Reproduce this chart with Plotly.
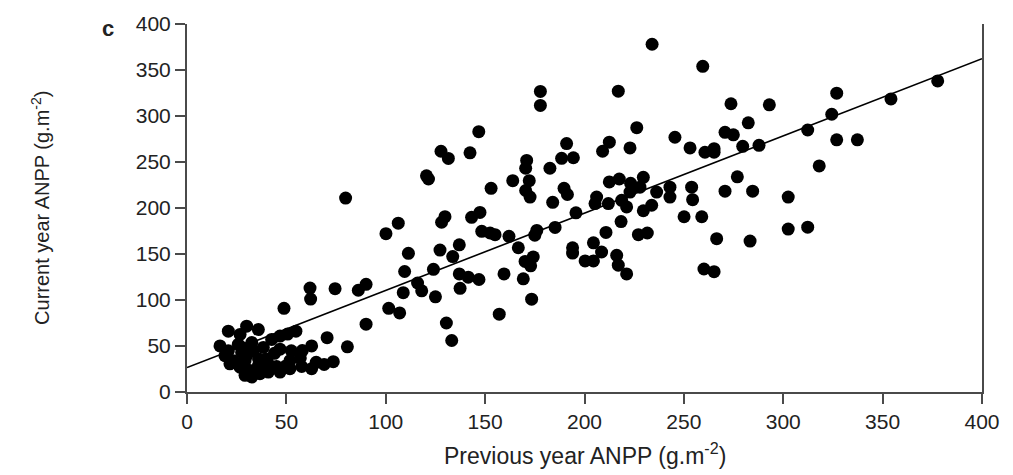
import plotly.graph_objects as go

# Previous year ANPP (x) and current year ANPP (y), g.m^-2
prev_anpp = [
    20.8, 30.0, 35.9, 26.7, 42.6, 46.8, 50.6, 54.8, 70.5, 62.7, 80.7, 16.6, 20.8, 25.8, 32.6, 38.4,
    46.8, 52.5, 19.1, 23.3, 30.0, 33.4, 40.1, 51.8, 57.0, 21.6, 26.7, 31.7, 35.9, 40.9, 45.1, 49.5,
    29.2, 32.6, 36.7, 40.9, 46.8, 51.8, 57.7, 62.7, 69.0, 73.6, 65.0, 29.2, 27.5, 48.8, 61.9, 62.2,
    74.5, 86.2, 90.1, 28.0, 36.0, 44.0, 58.0,
    79.8, 108.8, 116.0, 118.1, 125.0, 101.5, 107.0, 90.1, 130.5, 133.2, 157.1, 173.4, 169.2, 159.5,
    137.0, 141.5, 146.9, 137.4, 109.5, 124.0, 111.4, 127.3, 133.7, 137.0, 166.7, 174.2, 170.1, 172.9,
    194.0, 194.0, 100.1, 106.3, 148.3, 152.5, 155.0, 162.0, 176.0, 175.0, 185.2, 128.1, 129.8, 143.2,
    147.4, 184.0, 195.7, 153.0, 170.4, 172.6, 189.7, 191.4, 163.9, 172.2, 120.5, 121.5, 127.8, 131.5,
    142.4, 170.9, 170.4, 182.6, 188.5, 194.4, 191.0, 146.8, 177.8, 177.8, 217.0, 234.0, 259.5, 273.7,
    293.0, 226.3, 282.4, 245.5, 270.7, 274.9, 212.5, 209.1, 222.9, 253.1, 260.6, 265.2, 265.2, 279.6,
    287.8, 212.5, 217.5, 223.2, 229.6, 227.9, 222.9, 236.3, 243.0, 243.0, 253.9, 254.4, 270.7, 284.6,
    276.9, 206.1, 205.3, 212.0, 218.7, 221.2, 233.8, 229.6, 218.4, 210.8, 227.1, 231.6, 250.1, 259.0,
    266.5, 283.3, 204.5, 208.6, 200.3, 204.5, 216.2, 217.0, 221.2, 260.1, 265.2, 326.9, 354.2, 377.7,
    324.4, 312.3, 326.9, 337.3, 318.1, 302.5, 302.5, 312.3,
]
curr_anpp = [
    66.1, 71.5, 67.9, 62.6, 57.2, 60.8, 63.0, 66.1, 59.0, 50.1, 49.1, 50.1, 44.8, 51.9, 53.7, 48.4,
    46.6, 44.8, 39.5, 34.1, 39.5, 44.8, 35.8, 34.1, 37.0, 30.6, 27.0, 23.5, 28.8, 30.6, 27.7, 28.0,
    18.1, 16.3, 19.9, 21.7, 21.7, 25.3, 27.7, 25.3, 30.0, 33.0, 32.3, 34.1, 43.0, 91.0, 113.0, 101.0,
    112.3, 110.6, 117.0, 48.0, 36.0, 42.0, 45.0,
    210.8, 108.0, 118.5, 110.0, 103.5, 91.0, 86.0, 73.7, 75.0, 56.0, 84.6, 100.9, 123.0, 128.3,
    128.3, 124.8, 122.3, 112.7, 131.0, 133.3, 150.7, 154.3, 147.2, 160.0, 156.8, 146.8, 141.9, 137.2,
    156.8, 151.0, 172.1, 183.5, 174.6, 172.8, 171.0, 169.2, 175.6, 170.5, 178.9, 184.5, 190.6, 189.9,
    195.2, 206.2, 194.8, 221.4, 219.0, 211.9, 221.4, 214.7, 229.7, 229.7, 235.0, 231.5, 261.7, 253.9,
    260.0, 251.7, 243.2, 243.2, 254.0, 254.6, 270.0, 283.0, 326.7, 311.5, 327.0, 378.0, 354.0, 313.3,
    312.2, 287.3, 292.6, 276.9, 282.3, 279.5, 271.6, 261.7, 265.3, 265.3, 260.6, 264.5, 260.6, 267.0,
    268.1, 228.3, 231.5, 226.9, 233.3, 222.6, 217.3, 217.3, 222.6, 211.9, 222.6, 209.1, 218.3, 218.3,
    233.9, 211.9, 204.8, 204.8, 208.3, 201.2, 203.0, 197.0, 185.2, 173.5, 171.0, 172.8, 190.5, 190.5,
    166.7, 164.0, 162.1, 152.2, 142.5, 142.5, 148.6, 137.9, 128.3, 133.7, 130.8, 324.8, 318.6, 338.1,
    301.9, 284.8, 274.1, 274.1, 245.7, 211.9, 177.1, 179.2,
]

# Regression line end points
fit_x = [0, 400]
fit_y = [26.5, 362.3]

x_ticks = [0, 50, 100, 150, 200, 250, 300, 350, 400]
y_ticks = [0, 50, 100, 150, 200, 250, 300, 350, 400]

FONT = "Liberation Sans, Arial, sans-serif"
AXIS_COLOR = "#4a4a4a"

fig = go.Figure()
fig.add_trace(go.Scatter(
    x=fit_x, y=fit_y, mode="lines",
    line=dict(color="black", width=1.6), showlegend=False, hoverinfo="skip",
))
fig.add_trace(go.Scatter(
    x=prev_anpp, y=curr_anpp, mode="markers",
    marker=dict(color="black", size=13, line=dict(width=0)),
    showlegend=False,
))

axis_common = dict(
    showgrid=False, zeroline=False, showline=True, linecolor=AXIS_COLOR, linewidth=2,
    ticks="outside", ticklen=10, tickwidth=1.5, tickcolor=AXIS_COLOR,
    tickfont=dict(family=FONT, size=21, color="#222222"),
)

fig.update_layout(
    width=1013, height=475,
    margin=dict(l=187, r=31, t=17, b=83),
    plot_bgcolor="white", paper_bgcolor="white",
    xaxis=dict(range=[0, 400], tickvals=x_ticks, **axis_common),
    yaxis=dict(range=[0, 400], tickvals=y_ticks, mirror=True, **axis_common),
    annotations=[
        dict(text="Previous year ANPP (g.m<sup>-2</sup>)", xref="paper", yref="paper",
             x=0.5, y=-0.168, xanchor="center", yanchor="middle", showarrow=False,
             font=dict(family=FONT, size=23, color="#222222")),
        dict(text="Current year ANPP (g.m<sup>-2</sup>)", xref="paper", yref="paper",
             x=-0.185, y=0.5, xanchor="center", yanchor="middle", showarrow=False, textangle=-90,
             font=dict(family=FONT, size=20, color="#222222")),
        dict(text="<b>c</b>", xref="paper", yref="paper",
             x=-0.099, y=0.987, xanchor="center", yanchor="middle", showarrow=False,
             font=dict(family=FONT, size=22, color="#222222")),
    ],
)

fig.write_html("out.html")
